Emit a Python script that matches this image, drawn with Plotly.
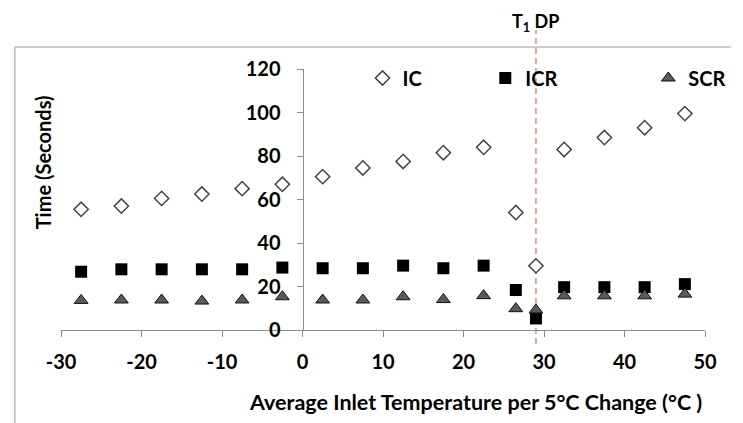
import plotly.graph_objects as go

# ---- data ----
temps = [-27.5, -22.5, -17.5, -12.5, -7.5, -2.5, 2.5, 7.5, 12.5, 17.5, 22.5,
         26.5, 29, 32.5, 37.5, 42.5, 47.5]
ic = [55.5, 57, 60.5, 62.5, 65, 67, 70.5, 74.5, 77.5, 81.5, 84,
      54, 29.5, 83, 88.5, 93, 99.5]
icr = [26.8, 27.9, 27.9, 27.9, 27.9, 28.7, 28.4, 28.4, 29.6, 28.4, 29.6,
       18.4, 5.3, 19.7, 19.7, 19.7, 21.1]
scr = [13.6, 13.8, 13.8, 13.3, 13.8, 15.3, 13.8, 13.8, 15.3, 14, 15.8,
       9.8, 9.2, 15.7, 15.7, 15.7, 16.5]
dew_point = 29
x_ticks = [-30, -20, -10, 0, 10, 20, 30, 40, 50]
x_tick_labels = ["-30", "-20", "-10", "0", "10", "20", "30", "40", "50"]
y_ticks = [0, 20, 40, 60, 80, 100, 120]
y_tick_labels = ["0", "20", "40", "60", "80", "100", "120"]

FONT = "Lato"
bold = dict(family=FONT, color="black", weight="bold")

# plot area geometry (px)
L, R, T, B = 61, 716.7, 69, 330
W, H = R - L, B - T
def px(xp): return (xp - L) / W
def py(yp): return (B - yp) / H

fig = go.Figure()
fig.add_trace(go.Scatter(
    x=temps, y=ic, mode="markers", name="IC", legend="legend",
    marker=dict(symbol="diamond", size=11, color="white",
                line=dict(color="#444444", width=1.5))))
fig.add_trace(go.Scatter(
    x=temps, y=icr, mode="markers", name="ICR", legend="legend2",
    marker=dict(symbol="square", size=12, color="black",
                line=dict(color="black", width=0))))
fig.add_trace(go.Scatter(
    x=temps, y=scr, mode="markers", name="SCR", legend="legend3",
    marker=dict(symbol="triangle-up", size=12, color="#5a5a5a",
                line=dict(color="#111111", width=1))))

leg_common = dict(orientation="h", bgcolor="rgba(0,0,0,0)", borderwidth=0,
                  xanchor="left", yanchor="middle",
                  font=dict(family=FONT, size=20, color="black", weight="bold"))
frame = dict(color="#bcbcbc", width=1.5)
fig.update_layout(
    width=743, height=423,
    margin=dict(l=L, r=743 - R, t=T, b=423 - B, pad=0),
    paper_bgcolor="white", plot_bgcolor="white",
    showlegend=True,
    legend=dict(x=px(368), y=py(78), **leg_common),
    legend2=dict(x=px(493), y=py(78), **leg_common),
    legend3=dict(x=px(659), y=py(78), **leg_common),
    xaxis=dict(range=[-30, 50], tickvals=x_ticks, ticktext=x_tick_labels,
               showgrid=False, zeroline=False,
               showline=True, linecolor="#8c8c8c", linewidth=1,
               ticks="outside", ticklen=6, tickcolor="#8c8c8c",
               ticklabelstandoff=8,
               tickfont=dict(size=20, **bold)),
    yaxis=dict(range=[0, 120], tickvals=y_ticks, ticktext=y_tick_labels,
               showgrid=False, zeroline=False,
               anchor="free", position=0.375,
               showline=True, linecolor="#8c8c8c", linewidth=1,
               ticks="outside", ticklen=6, tickcolor="#8c8c8c",
               ticklabelstandoff=12,
               tickfont=dict(size=20, **bold)),
    shapes=[
        dict(type="line", xref="paper", yref="paper",
             x0=px(14), x1=px(743), y0=py(47), y1=py(47), line=frame),
        dict(type="line", xref="paper", yref="paper",
             x0=px(14), x1=px(14), y0=py(47), y1=py(423), line=frame),
        dict(type="line", xref="x", yref="paper", x0=dew_point, x1=dew_point,
             y0=py(344), y1=py(30),
             line=dict(color="#f08878", width=1.5, dash="6px,4px"), layer="below"),
    ],
    annotations=[
        dict(text="Time (Seconds)", xref="paper", yref="paper",
             x=px(43), y=py(162), textangle=-90, showarrow=False,
             xanchor="center", yanchor="middle", font=dict(size=20, **bold)),
        dict(text="Average Inlet Temperature per 5°C Change (°C )",
             xref="paper", yref="paper", x=px(483), y=py(402), showarrow=False,
             xanchor="center", yanchor="middle", font=dict(size=21.5, **bold)),
        dict(text="T<sub>1</sub> DP", xref="x", yref="paper", x=dew_point, y=py(22),
             showarrow=False, xanchor="center", yanchor="middle",
             font=dict(size=18, **bold)),
    ],
)

fig.write_html("out.html",
               config={"displayModeBar": False},
               post_script="document.body.style.margin='0';document.body.style.padding='0';")
